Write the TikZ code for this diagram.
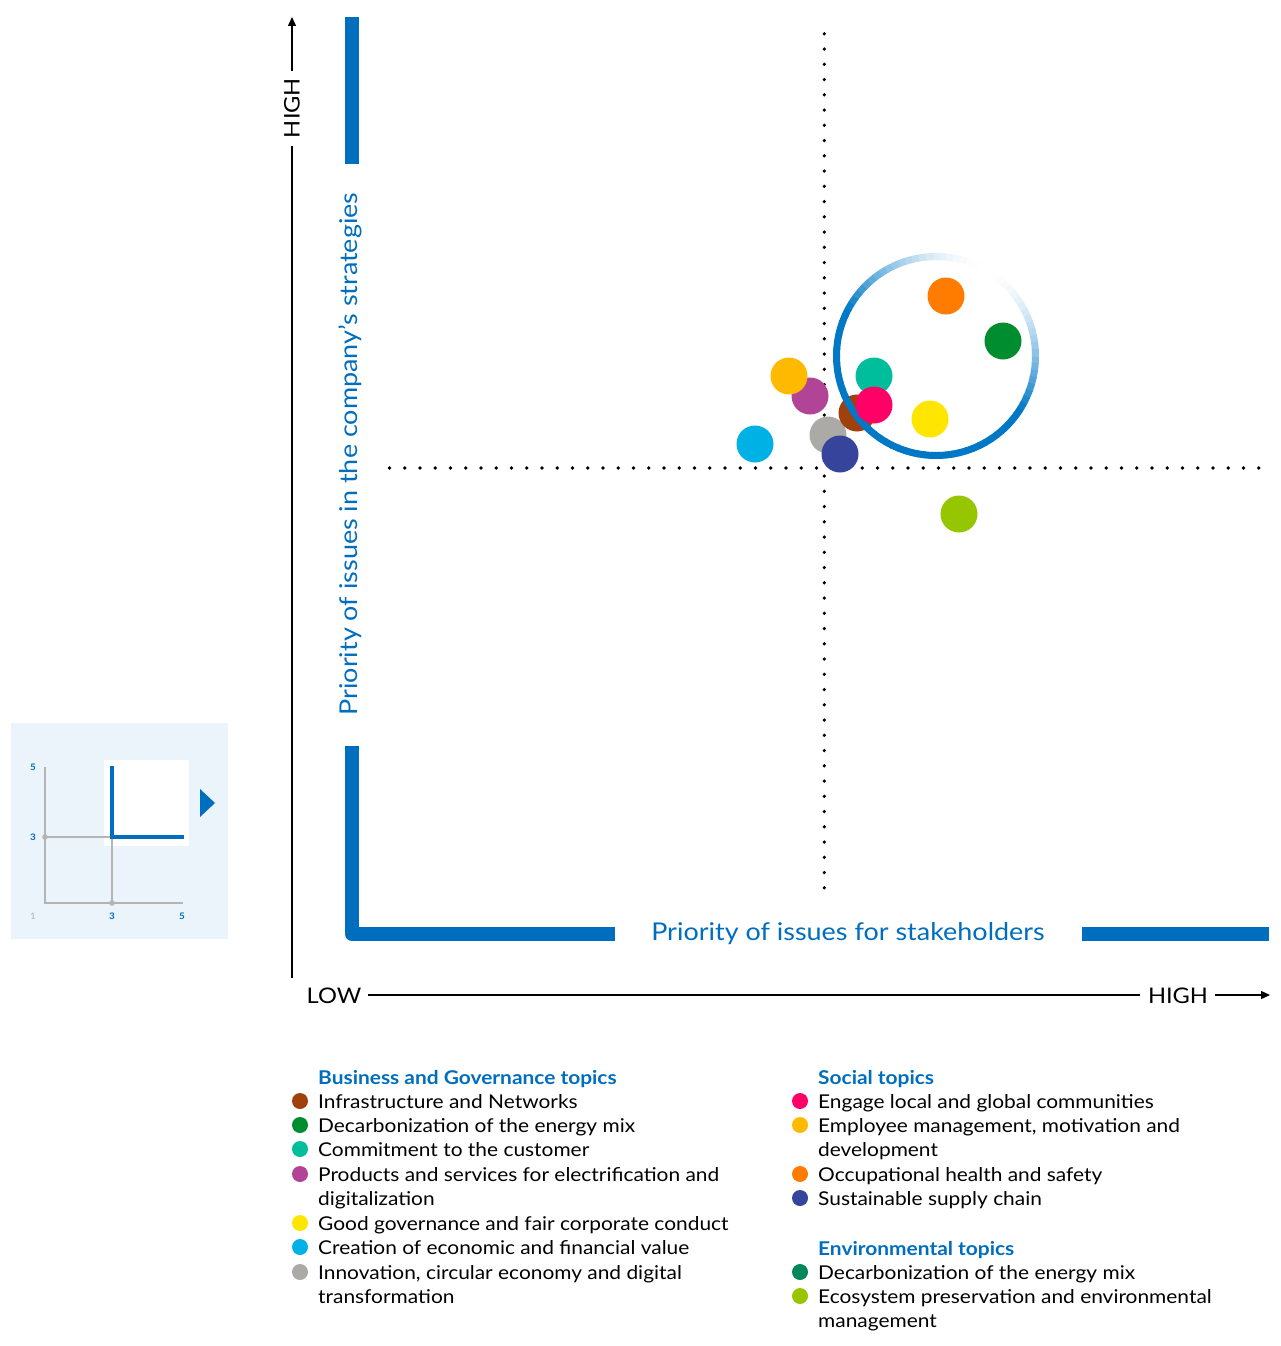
\documentclass[tikz,border=0pt]{standalone}
\usepackage{fontspec}
\setmainfont{Lato}[FakeStretch=1.1]
\usetikzlibrary{arrows.meta}
\definecolor{eblue}{HTML}{006EBE}
\definecolor{ringblue}{HTML}{0078C6}
\definecolor{panel}{HTML}{EBF3FB}
\definecolor{igray}{HTML}{B4B4B4}
\definecolor{cBrown}{HTML}{A0410D}
\definecolor{cGreen}{HTML}{008D2F}
\definecolor{cTeal}{HTML}{00BE9C}
\definecolor{cPurple}{HTML}{B14497}
\definecolor{cYellow}{HTML}{FFE600}
\definecolor{cCyan}{HTML}{00B1E6}
\definecolor{cGray}{HTML}{ABAAA6}
\definecolor{cPink}{HTML}{FF0066}
\definecolor{cAmber}{HTML}{FFBA00}
\definecolor{cOrange}{HTML}{FF7C00}
\definecolor{cNavy}{HTML}{36449B}
\definecolor{cEgreen}{HTML}{00875A}
\definecolor{cLime}{HTML}{96C600}
\begin{document}
\begin{tikzpicture}[x=1pt,y=-1pt,
  bubble/.style={circle, inner sep=0pt, minimum size=37pt, fill=#1},
  legdot/.style={circle, inner sep=0pt, minimum size=16pt, fill=#1},
  legtext/.style={anchor=base west, font=\fontsize{19}{24}\selectfont, inner sep=0pt},
  leghead/.style={anchor=base west, font=\fontsize{19}{24}\selectfont\bfseries, text=eblue, inner sep=0pt},
  axtext/.style={font=\fontsize{21.5}{21.5}\selectfont, inner sep=0pt},
  bluelabel/.style={font=\fontsize{24.5}{24.5}\selectfont, text=eblue, inner sep=0pt},
  blackaxis/.style={line width=1.3pt, black},
  axarrow/.style={blackaxis, -{Triangle[length=9pt,width=8pt]}},
  bluebar/.style={line width=14pt, eblue},
  dotline/.style={line width=3.6pt, line cap=round, dash pattern=on 0pt off 15.25pt, black},
  inlab/.style={font=\fontsize{9}{9}\selectfont\bfseries, text=eblue, inner sep=0pt},
  gline/.style={line width=1.6pt, igray}
]
\path[use as bounding box, fill=white] (0,0) rectangle (1280,1346);

% ---------- inset ----------
\fill[panel] (11,723) rectangle (228,939);
\fill[white] (104,760) rectangle (189,846);
\coordinate (i00) at (45,903);
\coordinate (i05) at (45,767);
\coordinate (i03) at (45,837);
\coordinate (i33) at (112,837);
\coordinate (i30) at (112,903);
\coordinate (i50) at (183,903);
\draw[gline] (i05) -- (i00) -- (i50);
\draw[gline] (i03) -- (i33) -- (i30);
\fill[igray] (i03) circle (2.8);
\fill[igray] (i30) circle (2.8);
\draw[line width=4.5pt, eblue] (112,766) -- (112,837) -- (184,837);
\fill[eblue] (200,789) -- (215,803) -- (200,817) -- cycle;
\node[inlab] (l5y) at (33,767) {5};
\node[inlab] (l3y) at (33,837) {3};
\node[inlab, text=igray, font=\fontsize{9}{9}\selectfont] (l1) at (33,916) {1};
\node[inlab] (l3x) at (112,916) {3};
\node[inlab] (l5x) at (182,916) {5};

% ---------- axes ----------
\node[axtext, rotate=90] (hy) at (292,108) {HIGH};
\draw[blackaxis] (292,978) -- (292,146);
\draw[axarrow] (292,71) -- (292,17);
\node[axtext] (low) at (334,996) {LOW};
\node[axtext] (hx) at (1178,996) {HIGH};
\draw[blackaxis] (368,995) -- (1140,995);
\draw[axarrow] (1215,995) -- (1270,995);

% ---------- blue frame ----------
\draw[bluebar] (352,17) -- (352,164);
\draw[bluebar, line join=round] (352,746) -- (352,934) -- (615,934);
\draw[bluebar] (1082,934) -- (1269,934);
\node[bluelabel, rotate=90] (ylab) at (350,454) {Priority of issues in the company's strategies};
\node[bluelabel] (xlab) at (848,934) {Priority of issues for stakeholders};

% ---------- dotted quadrant lines ----------
\draw[dotline] (824.3,33.8) -- (824.3,895);
\draw[dotline] (389.5,468) -- (1265,468);

% ---------- bubbles ----------
\node[bubble=cCyan] (cyan) at (755,444) {};
\node[bubble=cPurple] (purple) at (810,396) {};
\node[bubble=cAmber] (amber) at (789,376) {};
\node[bubble=cGray] (gray) at (828,435) {};
\node[bubble=cNavy] (navy) at (840,454) {};
\node[bubble=cTeal] (teal) at (874,376) {};
\node[bubble=cBrown] (brown) at (857,413) {};
\node[bubble=cOrange] (orange) at (946,296) {};
\node[bubble=cGreen] (green) at (1003,341) {};
\node[bubble=cYellow] (yellow) at (930,419) {};
\node[bubble=cLime] (lime) at (959,514) {};

% ---------- gradient ring ----------
\coordinate (ringc) at (936,356);
\foreach \a in {0,4,...,356}{
  \pgfmathsetmacro\p{min(100,max(0,95*(1-cos(\a+2-300))))}
  \draw[line width=7pt, draw=ringblue!\p!white] (ringc) ++(\a:99.5) arc[start angle=\a, end angle=\a+4.6, radius=99.5];
}
\node[bubble=cPink] (pink) at (874,405) {};

% ---------- legend ----------
\node[leghead] (hb) at (318,1084) {Business and Governance topics};
\node[legdot=cBrown] (d1) at (300,1101) {};
\node[legtext] (t1) at (318,1108) {Infrastructure and Networks};
\node[legdot=cGreen] (d2) at (300,1125) {};
\node[legtext] (t2) at (318,1132) {Decarbonization of the energy mix};
\node[legdot=cTeal] (d3) at (300,1149) {};
\node[legtext] (t3) at (318,1156) {Commitment to the customer};
\node[legdot=cPurple] (d4) at (300,1174) {};
\node[legtext] (t4) at (318,1181) {Products and services for electrification and};
\node[legtext] (t4b) at (318,1205) {digitalization};
\node[legdot=cYellow] (d5) at (300,1223) {};
\node[legtext] (t5) at (318,1230) {Good governance and fair corporate conduct};
\node[legdot=cCyan] (d6) at (300,1247) {};
\node[legtext] (t6) at (318,1254) {Creation of economic and financial value};
\node[legdot=cGray] (d7) at (300,1272) {};
\node[legtext] (t7) at (318,1279) {Innovation, circular economy and digital};
\node[legtext] (t7b) at (318,1303) {transformation};

\node[leghead] (hs) at (818,1084) {Social topics};
\node[legdot=cPink] (s1) at (800,1101) {};
\node[legtext] (u1) at (818,1108) {Engage local and global communities};
\node[legdot=cAmber] (s2) at (800,1125) {};
\node[legtext] (u2) at (818,1132) {Employee management, motivation and};
\node[legtext] (u2b) at (818,1156) {development};
\node[legdot=cOrange] (s3) at (800,1174) {};
\node[legtext] (u3) at (818,1181) {Occupational health and safety};
\node[legdot=cNavy] (s4) at (800,1198) {};
\node[legtext] (u4) at (818,1205) {Sustainable supply chain};

\node[leghead] (he) at (818,1255) {Environmental topics};
\node[legdot=cEgreen] (e1) at (800,1272) {};
\node[legtext] (v1) at (818,1279) {Decarbonization of the energy mix};
\node[legdot=cLime] (e2) at (800,1296) {};
\node[legtext] (v2) at (818,1303) {Ecosystem preservation and environmental};
\node[legtext] (v2b) at (818,1327) {management};
\end{tikzpicture}
\end{document}
